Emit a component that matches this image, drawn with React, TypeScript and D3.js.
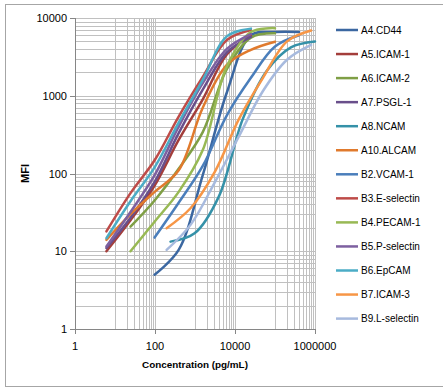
import React from 'react';
import * as d3 from 'd3';

// Concentrations (pg/mL): 4-fold dilution series
const conc25k = [6.1, 24.4, 97.7, 390.6, 1562.5, 6250, 25000];
const conc100k = [24.4, 97.7, 390.6, 1562.5, 6250, 25000, 100000];
const conc100k8 = [6.1, 24.4, 97.7, 390.6, 1562.5, 6250, 25000, 100000];
const conc400k = [97.7, 390.6, 1562.5, 6250, 25000, 100000, 400000];
const conc800k = [195.3, 781.3, 3125, 12500, 50000, 200000, 800000];
const conc1m = [244.1, 976.6, 3906.3, 15625, 62500, 250000, 1000000];

// MFI values
const mfiA4 = [5, 10.4, 95, 1100, 6000, 6600, 6600];
const mfiA5 = [10, 25, 70, 270, 900, 3400, 6000];
const mfiA6 = [20.7, 45, 115, 340, 2200, 5600, 6350];
const mfiA7 = [11, 27, 78, 330, 1200, 3600, 5700];
const mfiA8 = [13.3, 17, 50, 500, 2100, 4200, 5000];
const mfiA10 = [14, 30, 58, 110, 700, 2500, 3900, 4960];
const mfiB2 = [15, 42, 125, 560, 1700, 4300, 6000];
const mfiB3 = [18, 56, 148, 540, 1750, 5200, 7000];
const mfiB4 = [10, 24, 58, 200, 2400, 6600, 7400];
const mfiB5 = [11.5, 32, 95, 400, 1450, 4000, 6200];
const mfiB6 = [14.7, 44, 120, 450, 1600, 5800, 7300];
const mfiB7 = [19.8, 36, 105, 500, 1700, 5000, 6900];
const mfiB9 = [10.4, 22, 77, 300, 1150, 2900, 4500];

const seriesNames = [
  'A4.CD44', 'A5.ICAM-1', 'A6.ICAM-2', 'A7.PSGL-1', 'A8.NCAM', 'A10.ALCAM',
  'B2.VCAM-1', 'B3.E-selectin', 'B4.PECAM-1', 'B5.P-selectin', 'B6.EpCAM',
  'B7.ICAM-3', 'B9.L-selectin',
];
const seriesConc = [
  conc400k, conc25k, conc100k, conc25k, conc1m, conc100k8,
  conc400k, conc25k, conc100k, conc25k, conc25k, conc800k, conc800k,
];
const seriesMfi = [
  mfiA4, mfiA5, mfiA6, mfiA7, mfiA8, mfiA10,
  mfiB2, mfiB3, mfiB4, mfiB5, mfiB6, mfiB7, mfiB9,
];
const seriesColors = [
  '#3B67A1', '#A33E3B', '#7F9F45', '#694F8B', '#3591A8', '#E07A2D',
  '#4A7EBB', '#BE4B48', '#98B954', '#7D60A0', '#4BACC6', '#F79646', '#A7BADE',
];

const xTicks = [1, 100, 10000, 1000000];
const yTicks = [1, 10, 100, 1000, 10000];

const FONT = "'Liberation Sans', Arial, sans-serif";

export default function App() {
  const W = 443, H = 388;
  const left = 75, right = 315, top = 18, bottom = 329;
  const x = d3.scaleLog().domain([1, 1e6]).range([left, right]);
  const y = d3.scaleLog().domain([1, 1e4]).range([bottom, top]);

  const xGrid: number[] = [];
  [1, 100, 10000].forEach((m) => {
    for (let k = 1; k <= 9; k++) xGrid.push(k * 10 * m);
  });
  xGrid.push(100, 10000, 1000000);
  const yGrid: number[] = [];
  [1, 10, 100, 1000].forEach((d) => {
    for (let k = 2; k <= 10; k++) yGrid.push(k * d);
  });

  const line = d3
    .line<[number, number]>()
    .x((d) => x(d[0]))
    .y((d) => y(d[1]))
    .curve(d3.curveCatmullRom.alpha(0.5));

  const legX = 336;
  const legY0 = 30;
  const legStep = 24.05;

  return (
    <svg width={W} height={H} style={{ position: 'absolute', left: 0, top: 0, background: '#fff' }}>
      <rect x={5.5} y={4.5} width={445} height={382} fill="#fff" stroke="#a6a6a6" strokeWidth={1} />
      {/* gridlines */}
      <g stroke="#c0c0c0" strokeWidth={1}>
        {xGrid.map((v, i) => (
          <line key={'xg' + i} x1={Math.round(x(v)) + 0.5} x2={Math.round(x(v)) + 0.5} y1={top} y2={bottom} />
        ))}
        {yGrid.map((v, i) => (
          <line key={'yg' + i} x1={left} x2={right} y1={Math.round(y(v)) + 0.5} y2={Math.round(y(v)) + 0.5} />
        ))}
      </g>
      {/* axes */}
      <g stroke="#868686" strokeWidth={1}>
        <line x1={left + 0.5} x2={left + 0.5} y1={top} y2={bottom} />
        <line x1={left} x2={right} y1={bottom + 0.5} y2={bottom + 0.5} />
        {yTicks.map((v) => (
          <line key={'yt' + v} x1={left - 5} x2={left} y1={Math.round(y(v)) + 0.5} y2={Math.round(y(v)) + 0.5} />
        ))}
        {xTicks.map((v) => (
          <line key={'xt' + v} x1={Math.round(x(v)) + 0.5} x2={Math.round(x(v)) + 0.5} y1={bottom} y2={bottom + 5} />
        ))}
      </g>
      {/* tick labels */}
      <g fontFamily={FONT} fontSize={11} fill="#000">
        {yTicks.map((v) => (
          <text key={'yl' + v} x={left - 8} y={y(v) + 4} textAnchor="end">
            {String(v)}
          </text>
        ))}
        {xTicks.map((v) => (
          <text key={'xl' + v} x={x(v)} y={350} textAnchor="middle">
            {String(v)}
          </text>
        ))}
      </g>
      <text
        fontFamily={FONT}
        fontSize={11}
        fontWeight="bold"
        transform={`translate(29,${(top + bottom) / 2}) rotate(-90)`}
        textAnchor="middle"
      >
        MFI
      </text>
      <text fontFamily={FONT} fontSize={9.9} fontWeight="bold" x={195} y={368} textAnchor="middle">
        Concentration (pg/mL)
      </text>
      {/* series */}
      <g fill="none" strokeWidth={2.5} strokeLinecap="round" strokeLinejoin="round">
        {seriesNames.map((name, i) => {
          const pts = seriesConc[i].map((c, j) => [c, seriesMfi[i][j]] as [number, number]);
          return <path key={name} d={line(pts) || ''} stroke={seriesColors[i]} />;
        })}
      </g>
      {/* legend */}
      <g fontFamily={FONT} fontSize={10}>
        {seriesNames.map((name, i) => {
          const ly = legY0 + i * legStep;
          return (
            <g key={'lg' + name}>
              <line x1={legX} x2={legX + 22} y1={ly} y2={ly} stroke={seriesColors[i]} strokeWidth={2.5} />
              <text x={legX + 25} y={ly + 3.5} fill="#000">
                {name}
              </text>
            </g>
          );
        })}
      </g>
    </svg>
  );
}
